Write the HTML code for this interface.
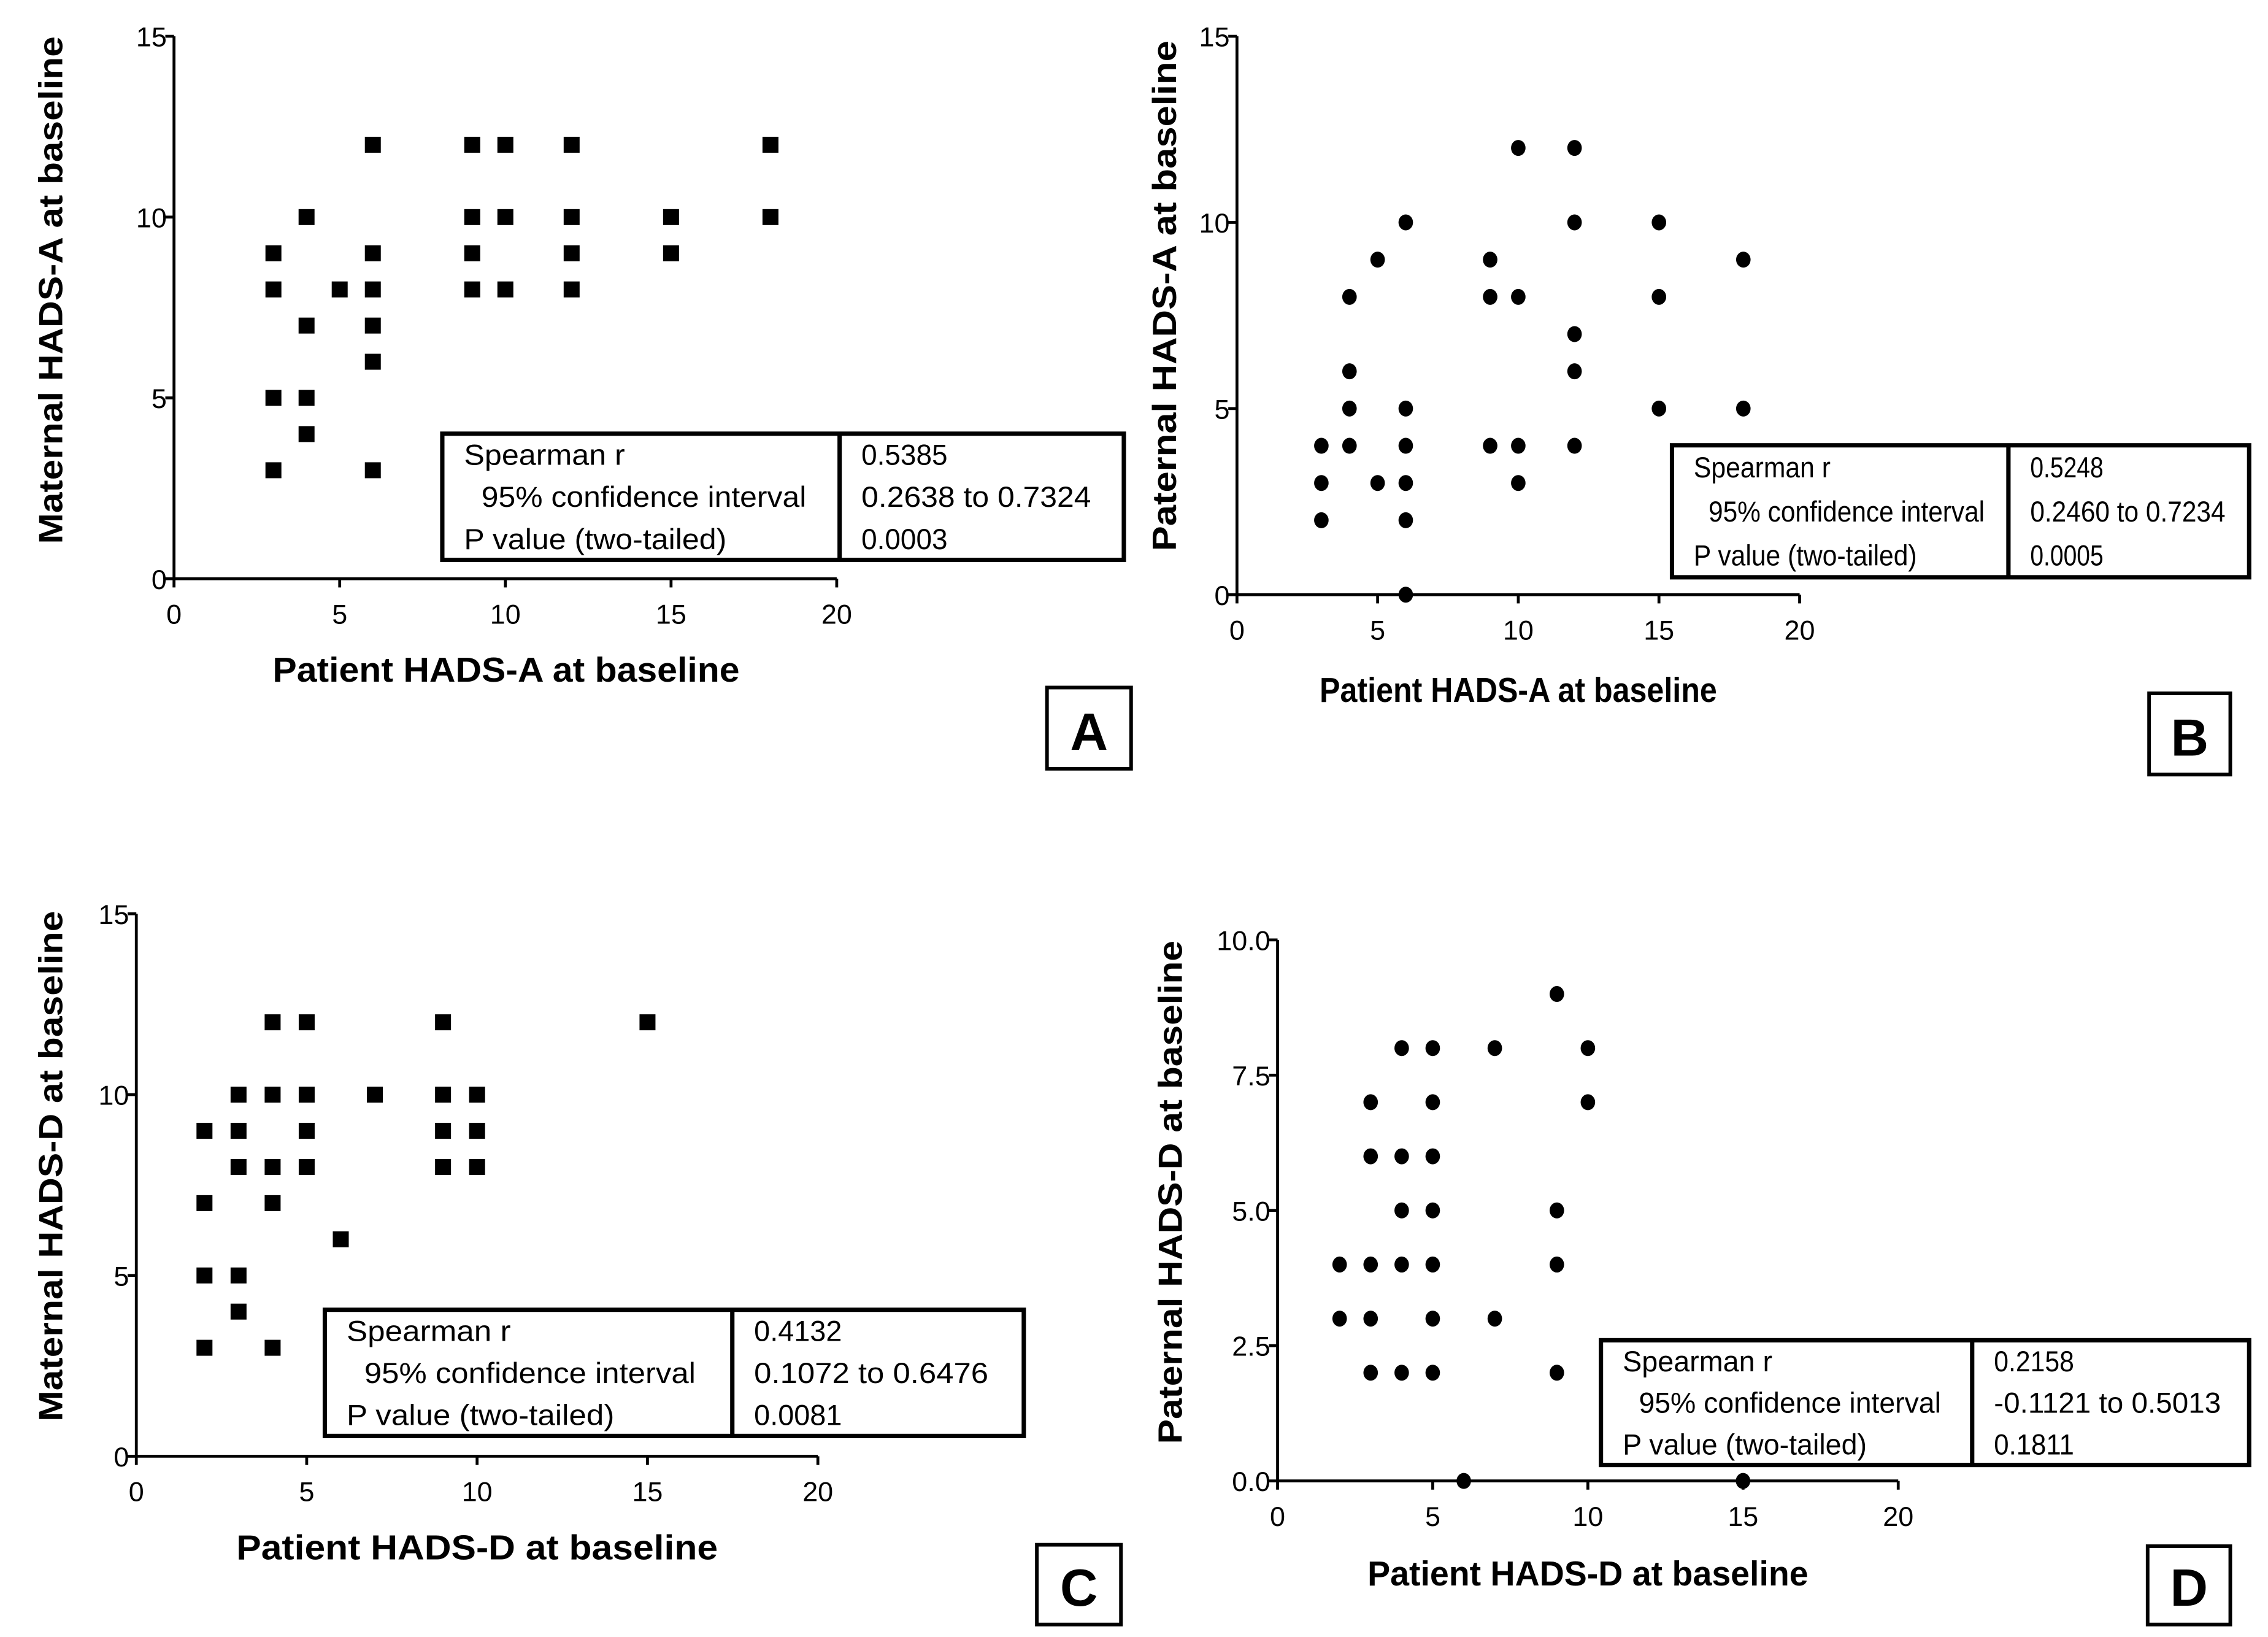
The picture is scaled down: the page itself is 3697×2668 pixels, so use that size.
<!DOCTYPE html>
<html><head><meta charset="utf-8"><style>
html,body{margin:0;padding:0;background:#fff;}
svg{display:block;}
text{font-family:"Liberation Sans Narrow","Liberation Sans",sans-serif;fill:#000;}
.ytitle{font-family:"Liberation Sans",sans-serif;font-weight:bold;}
</style></head><body>
<svg id="fig" width="3697" height="2668" viewBox="0 0 1564 1128.6" preserveAspectRatio="none" xmlns="http://www.w3.org/2000/svg"></svg>
<script>
// Panel A data
const aX = [3,3,3,3,4,4,4,4,5,6,6,6,6,6,6,9,9,9,9,10,10,10,12,12,12,12,15,15,18,18];
const aY = [9,8,5,3,10,7,5,4,8,12,9,8,7,6,3,12,10,9,8,12,10,8,12,10,9,8,10,9,12,10];
const aStats = ["0.5385","0.2638 to 0.7324","0.0003"];
// Panel B data
const bX = [3,3,3,4,4,4,4,5,5,6,6,6,6,6,6,9,9,9,10,10,10,10,12,12,12,12,12,15,15,15,18,18];
const bY = [4,3,2,8,6,5,4,9,3,10,5,4,3,2,0,9,8,4,12,8,4,3,12,10,7,6,4,10,8,5,9,5];
const bStats = ["0.5248","0.2460 to 0.7234","0.0005"];
// Panel C data
const cX = [2,2,2,2,3,3,3,3,3,4,4,4,4,4,5,5,5,5,6,7,9,9,9,9,10,10,10,15];
const cY = [9,7,5,3,10,9,8,5,4,12,10,8,7,3,12,10,9,8,6,10,12,10,9,8,10,9,8,12];
const cStats = ["0.4132","0.1072 to 0.6476","0.0081"];
// Panel D data
const dX = [2,2,3,3,3,3,3,4,4,4,4,4,5,5,5,5,5,5,5,6,7,7,9,9,9,9,10,10,15];
const dY = [4,3,7,6,4,3,2,8,6,5,4,2,8,7,6,5,4,3,2,0,8,3,9,5,4,2,8,7,0];
const dStats = ["0.2158","-0.1121 to 0.5013","0.1811"];
const xTicks = [0,5,10,15,20];
const yTicksA = [0,5,10,15];
const yTicksD = [0,2.5,5,7.5,10];
const statLabels = ["Spearman r","95% confidence interval","P value (two-tailed)"];
const statLabelW = [111,224,181];
const statIndent = [0,12,0];

const NS="http://www.w3.org/2000/svg";
const svg=document.getElementById('fig');
function mk(tag,attrs,parent,txt){const e=document.createElementNS(NS,tag);for(const k in attrs)e.setAttribute(k,attrs[k]);if(txt!==undefined)e.textContent=txt;(parent||svg).appendChild(e);return e;}

function panel(p){
  const g=mk('g',{});
  
  
  const sx=v=>p.x0+(v-0)/20*(p.x1-p.x0);
  const sy=v=>p.y0-(v-0)/p.ymax*(p.y0-p.y1);
  const ax=mk('path',{d:`M${p.x0},${p.y1} L${p.x0},${p.y0} L${p.x1},${p.y0}`,stroke:'#000','stroke-width':2,fill:'none'},g);
  
  
  xTicks.forEach(t=>{
    mk('line',{x1:sx(t),x2:sx(t),y1:p.y0,y2:p.y0+6,stroke:'#000','stroke-width':2},g);
    const tx=mk('text',{x:sx(t),y:p.y0+31,'font-size':19,'text-anchor':'middle'},g,String(t));
    
    
  });
  p.yt.forEach(t=>{
    mk('line',{x1:p.x0-6,x2:p.x0,y1:sy(t),y2:sy(t),stroke:'#000','stroke-width':2},g);
    const tx=mk('text',{x:p.x0-5,y:sy(t)+7,'font-size':19,'text-anchor':'end'},g,p.dec?t.toFixed(1):String(t));
    
    
  });
  p.xs.forEach((xv,i)=>{
    const yv=p.ys[i];let m;
    if(p.sq) m=mk('rect',{x:sx(xv)-5.5,y:sy(yv)-5.5,width:11,height:11,fill:'#000'},g);
    else m=mk('ellipse',{cx:sx(xv),cy:sy(yv),rx:5,ry:5.5,fill:'#000'},g);
    
    
  });
  const xt=mk('text',{x:p.xtx,y:p.xty,'font-size':24,'font-weight':'bold','text-anchor':'middle',textLength:p.xtl,lengthAdjust:'spacingAndGlyphs'},g,p.xtitle);
  
  
  const yt=mk('text',{x:0,y:0,'font-size':23,'text-anchor':'middle',class:'ytitle',textLength:p.ytl,lengthAdjust:'spacingAndGlyphs',transform:`translate(${p.ytx},${p.yty}) rotate(-90)`},g,p.ytitle);
  
  
  const b=p.box;
  const sb=mk('g',{},g);
  
  
  mk('rect',{x:b[0],y:b[1],width:b[2]-b[0],height:b[3]-b[1],fill:'#fff',stroke:'#000','stroke-width':3},sb);
  mk('line',{x1:b[4],x2:b[4],y1:b[1],y2:b[3],stroke:'#000','stroke-width':3},sb);
  const rh=(b[3]-b[1])/3;
  statLabels.forEach((s,i)=>{
    const t=mk('text',{x:b[0]+15+statIndent[i]*p.k,y:b[1]+rh*(i+0.5)+7,'font-size':20,textLength:statLabelW[i]*p.k,lengthAdjust:'spacingAndGlyphs'},sb,s);
    
    
    const v=mk('text',{x:b[4]+15,y:b[1]+rh*(i+0.5)+7,'font-size':20,textLength:p.stats[i].length*9.9*p.k,lengthAdjust:'spacingAndGlyphs'},sb,p.stats[i]);
    
    
  });
  const L=p.lab;
  const lg=mk('g',{},g);
  
  
  mk('rect',{x:L[0],y:L[1],width:L[2]-L[0],height:L[3]-L[1],fill:'#fff',stroke:'#000','stroke-width':2.5},lg);
  mk('text',{x:(L[0]+L[2])/2,y:L[3]-13,'font-size':36,'font-weight':'bold','text-anchor':'middle'},lg,p.id);
}

panel({id:'A',x0:120,x1:577,y0:399,y1:25,ymax:15,yt:yTicksA,xs:aX,ys:aY,sq:true,stats:aStats,k:1,
  box:[305,299,775,386,579],lab:[722,474,780,530],xtitle:'Patient HADS-A at baseline',xtx:349,xty:470,xtl:322,
  ytitle:'Maternal HADS-A at baseline',ytx:43,yty:200,ytl:350});
panel({id:'B',x0:853,x1:1241,y0:410,y1:25,ymax:15,yt:yTicksA,xs:bX,ys:bY,sq:false,stats:bStats,k:0.85,
  box:[1153,307,1551,398,1385],lab:[1482,478,1538,534],xtitle:'Patient HADS-A at baseline',xtx:1047,xty:484,xtl:274,
  ytitle:'Paternal HADS-A at baseline',ytx:811,yty:204,ytl:352});
panel({id:'C',x0:94,x1:564,y0:1004,y1:630,ymax:15,yt:yTicksA,xs:cX,ys:cY,sq:true,stats:cStats,k:1.02,
  box:[224,903,706,990,505],lab:[715,1065,773,1120],xtitle:'Patient HADS-D at baseline',xtx:329,xty:1075,xtl:332,
  ytitle:'Maternal HADS-D at baseline',ytx:43,yty:804,ytl:352});
panel({id:'D',x0:881,x1:1309,y0:1021,y1:648,ymax:10,yt:yTicksD,dec:true,xs:dX,ys:dY,sq:false,stats:dStats,k:0.93,
  box:[1104,924,1551,1010,1360],lab:[1481,1066,1538,1120],xtitle:'Patient HADS-D at baseline',xtx:1095,xty:1093,xtl:304,
  ytitle:'Paternal HADS-D at baseline',ytx:815,yty:822,ytl:347});
</script>
</body></html>
